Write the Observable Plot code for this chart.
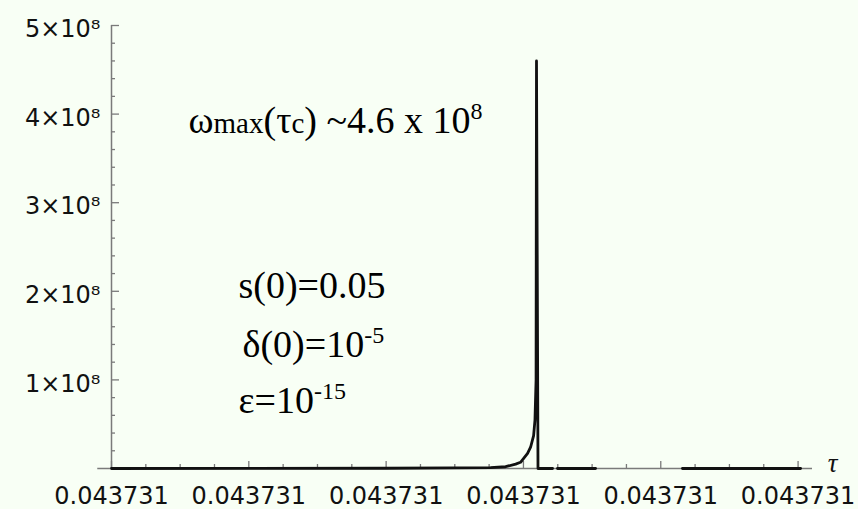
<!DOCTYPE html>
<html>
<head>
<meta charset="utf-8">
<script src="https://cdn.jsdelivr.net/npm/d3@7"></script>
<script src="https://cdn.jsdelivr.net/npm/@observablehq/plot@0.6"></script>
<style>
  html, body { margin: 0; padding: 0; background: #f8fff5; }
</style>
</head>
<body>
<div id="chart"></div>
<script>
// ω(τ) near the blow-up time τc; τ is counted in x-tick steps from the first labelled tick
const tau     = [0, 1.0, 2.0, 2.5, 2.76, 2.87, 2.943, 2.979, 3.030, 3.052, 3.074, 3.084, 3.092, 3.095, 3.106, 3.212, 3.248, 3.525, 4.158, 5.018];
const omega   = [0, 0.001e8, 0.003e8, 0.006e8, 0.01e8, 0.02e8, 0.05e8, 0.07e8, 0.17e8, 0.24e8, 0.37e8, 0.55e8, 1.0e8, 4.6e8, 0, 0, 0, 0, 0, 0];
const segment = [0, 0, 0, 0, 0, 0, 0, 0, 0, 0, 0, 0, 0, 0, 0, 0, 1, 1, 2, 2];

const xTicks = [0, 1, 2, 3, 4, 5];
const xTickLabels = ["0.043731", "0.043731", "0.043731", "0.043731", "0.043731", "0.043731"];
const yTicks = [1e8, 2e8, 3e8, 4e8, 5e8];
const yTickLabels = ["1×10⁸", "2×10⁸", "3×10⁸", "4×10⁸", "5×10⁸"];

// annotation texts: [string, style] pieces
const omegaNote = [["ω"], ["max", "small"], ["(τ"], ["c", "small"], [") ~4.6 x 10"], ["8", "sup"]];
const sNote     = [["s(0)=0.05"]];
const deltaNote = [["δ(0)=10"], ["-5", "sup"]];
const epsNote   = [["ε=10"], ["-15", "sup"]];

const plain = parts => parts.map(p => p[0]).join("");
const notes = [omegaNote, sNote, deltaNote, epsNote];

const W = 858, H = 509, mL = 111, mR = 46, mT = 25, mB = 41;
const frameW = W - mL - mR, frameH = H - mT - mB;

const axisGray = "#7a7a7a";
const minorX = d3.range(0, 5.001, 0.25).filter(v => !xTicks.includes(v));
const minorY = d3.range(1, 25).map(k => k * 0.2e8).filter(v => Math.abs(v / 1e8 - Math.round(v / 1e8)) > 1e-9);

// inward ticks: frame-spanning ticks inset down to a few pixels
const tickXStyle = len => ({x: d => d, insetTop: frameH - len, stroke: axisGray, strokeWidth: 1.3});
const tickYStyle = len => ({y: d => d, insetRight: frameW - len, stroke: axisGray, strokeWidth: 1.3});

const noteStyle = {
  text: d => plain(d), textAnchor: "start", lineAnchor: "bottom",
  fontFamily: "Liberation Serif", fontSize: 38, fill: "#000"
};

const chart = Plot.plot({
  width: W,
  height: H,
  marginLeft: mL,
  marginRight: mR,
  marginTop: mT,
  marginBottom: mB,
  style: {background: "#f8fff5", fontFamily: "DejaVu Sans", color: "#1c1c1c", overflow: "visible"},
  x: {domain: [0, 5.105]},
  y: {domain: [0, 5e8]},
  marks: [
    // axis lines
    Plot.ruleY([0], {x1: -0.1, x2: 5.105, stroke: axisGray, strokeWidth: 1.5}),
    Plot.ruleX([0], {y1: 0, y2: 5e8, stroke: axisGray, strokeWidth: 1.5}),
    // ticks
    Plot.tickX(minorX, tickXStyle(4)),
    Plot.tickX(xTicks, tickXStyle(7)),
    Plot.tickY(minorY, tickYStyle(4)),
    Plot.tickY(yTicks, tickYStyle(8)),
    // tick labels
    Plot.axisX(xTicks, {
      tickSize: 0, tickPadding: 18, fontSize: 24, label: null, fill: "#111",
      tickFormat: d => xTickLabels[xTicks.indexOf(d)]
    }),
    Plot.axisY(yTicks, {
      tickSize: 0, tickPadding: 11, fontSize: 24, dy: 4, label: null, fill: "#111",
      tickFormat: d => yTickLabels[yTicks.indexOf(d)]
    }),
    Plot.text(["τ"], {
      text: d => d, frameAnchor: "bottom-right", dx: 25, dy: 3,
      fontFamily: "Liberation Serif", fontStyle: "italic", fontSize: 27, fill: "#111"
    }),
    // the solution curve
    Plot.line(tau, {x: tau, y: omega, z: segment, stroke: "#111", strokeWidth: 2.8}),
    // annotations
    Plot.text([omegaNote], {...noteStyle, x: 0.561, y: 3.79e8}),
    Plot.text([sNote],     {...noteStyle, x: 0.925, y: 1.93e8}),
    Plot.text([deltaNote], {...noteStyle, x: 0.954, y: 1.253e8}),
    Plot.text([epsNote],   {...noteStyle, x: 0.925, y: 0.621e8})
  ]
});

// typeset the smaller pieces and superscripts of the annotations
d3.select(chart).selectAll("text").each(function () {
  const parts = notes.find(n => n.length > 1 && plain(n) === this.textContent);
  if (!parts) return;
  const el = d3.select(this).text(null);
  for (const [str, kind] of parts) {
    const ts = el.append("tspan").text(str);
    if (kind === "small") ts.attr("font-size", 29);
    if (kind === "sup") ts.attr("font-size", 24).attr("dy", -14);
  }
});

document.getElementById("chart").append(chart);
</script>
</body>
</html>
